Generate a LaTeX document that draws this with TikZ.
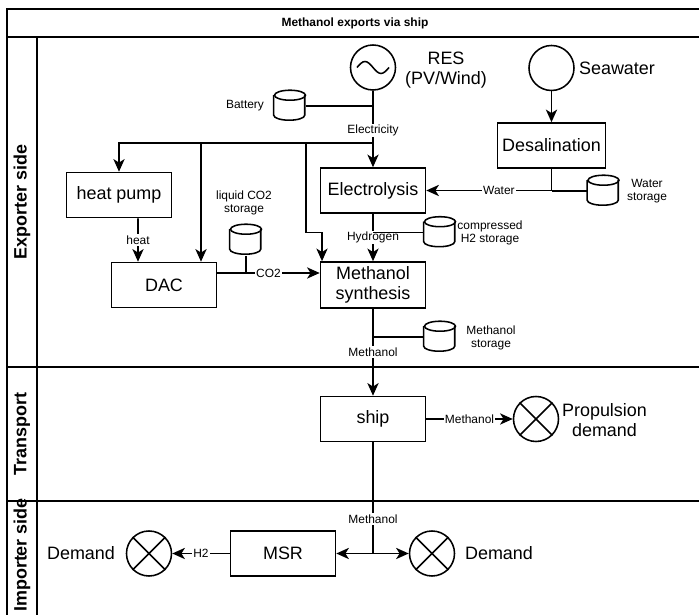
\documentclass[tikz,border=0pt]{standalone}
\usepackage{fontspec}
\setmainfont{Liberation Sans}
\usetikzlibrary{arrows.meta}

\begin{document}
\begin{tikzpicture}[x=0.025cm, y=-0.025cm, line width=1.1pt,
    box/.style={draw, minimum width=2.625cm, minimum height=1.125cm, font=\fontsize{12.76}{14.2}\selectfont},
    src/.style={draw, circle, minimum size=1.125cm, inner sep=0pt},
    tank/.style={minimum width=0.775cm, minimum height=0.75cm, inner sep=0pt},
    big/.style={font=\fontsize{12.76}{14.2}\selectfont, align=center},
    small/.style={font=\fontsize{8.5}{9.5}\selectfont, align=center},
    lbl/.style={small, fill=white, inner sep=1pt},
    flow/.style={-{Stealth[length=9pt, width=8pt, inset=2.5pt]}},
    lane/.style={font=\fontsize{12.76}{14.2}\selectfont\bfseries, rotate=90}]
  \useasboundingbox (0, 0) rectangle (699, 615);

  \draw [line width=1.4pt] (699, 9) -- (7, 9) -- (7, 615);
  \draw [line width=1.4pt] (7, 37) -- (699, 37) (7, 367) -- (699, 367) (7, 501) -- (699, 501) (37, 37) -- (37, 615);
  \node [font=\fontsize{8.5}{10}\selectfont\bfseries] (title) at (355, 23) {Methanol exports via ship};
  \node [lane] (exporter) at (22, 202) {Exporter side};
  \node [lane] (transport) at (22, 434) {Transport};
  \node [lane] (importer) at (22, 555) {Importer side};

  \node [src] (res) at (373, 67.5) {};
  \draw ([xshift=-0.4cm]res.center) sin ++(8, -6) cos ++(8, 6) sin ++(8, 6) cos ++(8, -6);
  \node [big] (reslbl) at (446, 70) {RES\\(PV/Wind)};
  \node [src] (sea) at (551.5, 68) {};
  \node [big] (sealbl) at (617, 68) {Seawater};
  \node [box] (des) at (551.5, 145.5) {Desalination};
  \node [box] (el) at (373, 190.5) {Electrolysis};
  \node [box] (hp) at (119, 195) {heat pump};
  \node [box] (dac) at (164, 285) {DAC};
  \node [box, align=center] (ms) at (373, 285) {Methanol\\synthesis};
  \node [box] (ship) at (373, 419) {ship};
  \node [box] (msr) at (283, 553.5) {MSR};

  \node [tank] (bat) at (290, 106) {};
  \node [small] (batlbl) at (245, 106) {Battery};
  \node [tank] (co2st) at (246, 240) {};
  \node [small] (co2lbl) at (244, 203) {liquid CO2\\storage};
  \node [tank] (h2st) at (440, 232.5) {};
  \node [small] (h2lbl) at (490, 233) {compressed\\H2 storage};
  \node [tank] (wst) at (603.5, 191) {};
  \node [small] (wlbl) at (647, 191) {Water\\storage};
  \node [tank] (mst) at (440, 337) {};
  \node [small] (mlbl) at (491, 338) {Methanol\\storage};
  \foreach \t in {bat, co2st, h2st, wst, mst} {
    \draw (\t.north west) ++(0, 5) -- ++(0, 20) arc [start angle=180, end angle=360, x radius=0.3875cm, y radius=0.125cm] -- ++(0, -20);
    \draw ([yshift=-0.125cm]\t.north) ellipse [x radius=0.3875cm, y radius=0.125cm];
  }

  \node [src] (prop) at (536, 419) {};
  \draw (prop.45) -- (prop.225) (prop.135) -- (prop.315);
  \node [big] (proplbl) at (604.5, 420) {Propulsion\\demand};
  \node [src] (dl) at (149, 553.5) {};
  \draw (dl.45) -- (dl.225) (dl.135) -- (dl.315);
  \node [big] (dllbl) at (81, 553.5) {Demand};
  \node [src] (dr) at (432, 553.5) {};
  \draw (dr.45) -- (dr.225) (dr.135) -- (dr.315);
  \node [big] (drlbl) at (499, 553.5) {Demand};

  \coordinate (bus) at (373, 143);
  \coordinate (tapdac) at (201, 143);
  \coordinate (tapms) at (306, 143);
  \coordinate (msbend) at (322, 232.5);
  \coordinate (hub) at (373, 553.5);
  \coordinate (dacout) at ([yshift=0.3cm]dac.east);

  \draw [flow] (res) -- (el) node [lbl, pos=0.52] {Electricity};
  \draw (bat) -- (bat -| res);
  \draw [flow] (bus) -| (hp);
  \draw [flow] (tapdac) -- (tapdac |- dac.north);
  \draw [flow] (tapms) |- (msbend) -- (msbend |- ms.north);
  \draw [flow] ([xshift=0.475cm]hp.south) -- ([xshift=-0.65cm]dac.north) node [lbl, midway] {heat};
  \draw [flow] (dacout) -- (dacout -| ms.west) node [lbl, midway] {CO2};
  \draw (co2st) -- (co2st |- dacout);
  \draw [flow] (el) -- (ms) node [lbl, midway] {Hydrogen};
  \draw (h2st) -- (h2st -| el);
  \draw [flow] (sea) -- (des);
  \draw [flow] (des) |- (el) node [lbl, pos=0.71] {Water};
  \draw (wst) -- (wst -| des);
  \draw [flow] (ms) -- (ship) node [lbl, midway] {Methanol};
  \draw (mst) -- (mst -| ms);
  \draw [flow] (ship) -- (prop) node [lbl, midway] {Methanol};
  \draw (ship) -- (hub) node [lbl, pos=0.69] {Methanol};
  \draw [flow] (hub) -- (msr);
  \draw [flow] (hub) -- (dr);
  \draw [flow] (msr) -- (dl) node [lbl, midway] {H2};
\end{tikzpicture}
\end{document}
